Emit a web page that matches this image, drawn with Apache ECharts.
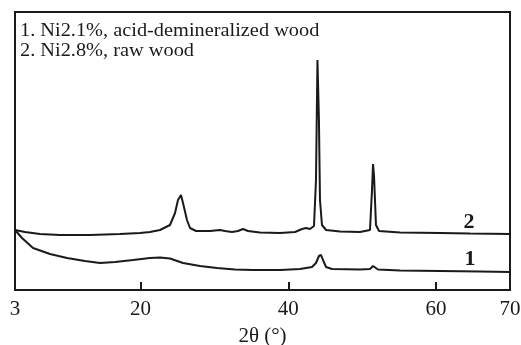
<!DOCTYPE html>
<html>
<head>
<meta charset="utf-8">
<script src="https://cdn.jsdelivr.net/npm/echarts@6/dist/echarts.min.js"></script>
<style>html,body{margin:0;padding:0;background:#fff}#c{width:521px;height:345px}</style>
</head>
<body>
<div id="c"></div>
<script>
// 2θ positions and intensities (a.u.)
const twoTheta2 = [3.00,4.35,6.38,9.09,13.15,17.21,19.92,21.27,22.63,23.98,24.66,25.06,25.47,25.74,26.28,26.69,27.50,29.39,30.75,31.42,32.37,33.18,33.86,34.54,36.16,38.87,40.90,41.85,42.39,42.93,43.47,43.74,43.94,44.14,44.28,44.55,45.10,46.99,49.70,51.05,51.32,51.46,51.59,51.86,52.27,55.11,60.53,64.59,70.00];
const intensity2 = [60,58,56,55,55,56,57,58,60,65,77,90,95,87,70,62,59,59,60,59,58,59,61,59,57.5,57,58,61,62,61,64,110,230,170,90,65,60,58.5,58,60,100,126,115,65,59,57.5,57,56.5,56];
const twoTheta1 = [3.00,3.95,5.44,7.74,10.04,12.47,14.51,16.54,18.97,21.27,22.63,23.98,25.74,28.04,30.34,32.78,35.21,38.87,41.58,43.20,43.74,44.14,44.42,44.69,45.10,45.91,49.70,51.05,51.46,51.73,52.13,55.11,60.53,65.94,70.00];
const intensity1 = [60,52,42,36,32,29,27,28,30,32,32.5,31.5,27,24,22,20.5,20,20,21,23,27,34,35,30,23,21,20.5,21,24,23.5,20.5,19.5,19,18.5,18];
const tickLabels = [3,20,40,60,70];
const tickMarks = [20,40,60];
const legendLines = ["1. Ni2.1%, acid-demineralized wood","2. Ni2.8%, raw wood"];
const curveLabels = [{name:"2", x:64.45, y:68},{name:"1", x:64.59, y:31}];

const pair = (xs, ys) => xs.map((x,i)=>[x, ys[i]]);
const chart = echarts.init(document.getElementById('c'), null, {renderer:'canvas'});
const serif = '"Liberation Serif","DejaVu Serif",serif';
const lineStyle = {color:'#1a1a1a', width:2};
chart.setOption({
  animation:false,
  backgroundColor:'#fff',
  grid:{left:15, right:11, top:12, bottom:55, outerBoundsMode:'none', containLabel:false,
        show:true, borderColor:'#1a1a1a', borderWidth:2},
  xAxis:{
    type:'value', min:3, max:70,
    name:'2θ (°)', nameLocation:'middle', nameGap:36,
    nameTextStyle:{fontFamily:serif, fontSize:21, color:'#1a1a1a'},
    axisLine:{show:true, lineStyle:{color:'#1a1a1a', width:2}},
    axisTick:{show:true, inside:true, length:8, customValues:tickMarks, lineStyle:{color:'#1a1a1a', width:2}},
    axisLabel:{customValues:tickLabels, fontFamily:serif, fontSize:21, color:'#1a1a1a', margin:9},
    splitLine:{show:false}
  },
  yAxis:{type:'value', min:0, max:278, show:false},
  graphic:[{
    type:'text', x:20, y:21, scaleX:1.13,
    style:{text:legendLines.join('\n'), font:'18px '+serif, fill:'#1a1a1a', lineHeight:20}
  }],
  series:[
    {type:'line', data:pair(twoTheta2,intensity2), symbol:'none', lineStyle, z:3,
     markPoint:{symbol:'circle', symbolSize:0, data:[{coord:[curveLabels[0].x,curveLabels[0].y]}],
       label:{show:true, formatter:curveLabels[0].name, fontFamily:serif, fontWeight:'bold', fontSize:22, color:'#1a1a1a'}}},
    {type:'line', data:pair(twoTheta1,intensity1), symbol:'none', lineStyle, z:3,
     markPoint:{symbol:'circle', symbolSize:0, data:[{coord:[curveLabels[1].x,curveLabels[1].y]}],
       label:{show:true, formatter:curveLabels[1].name, fontFamily:serif, fontWeight:'bold', fontSize:22, color:'#1a1a1a'}}}
  ]
});
</script>
</body>
</html>
